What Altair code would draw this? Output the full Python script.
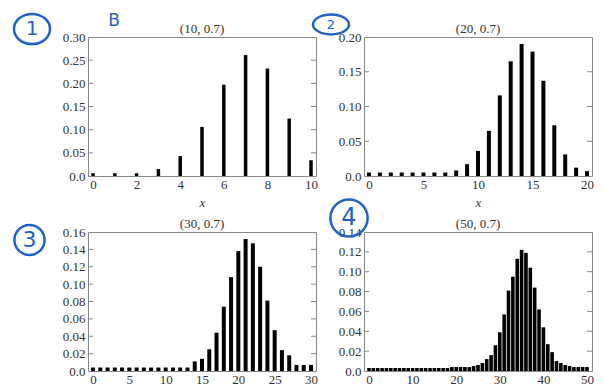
import altair as alt
import pandas as pd

# ---- data ----
p10 = [0.006, 0.006, 0.006, 0.015, 0.043, 0.106, 0.197, 0.261, 0.232, 0.124, 0.034]
p20 = [0.005, 0.005, 0.005, 0.005, 0.005, 0.005, 0.005, 0.005, 0.008, 0.017, 0.036,
       0.065, 0.116, 0.165, 0.190, 0.179, 0.137, 0.073, 0.031, 0.012, 0.007]
p30 = [0.004, 0.004, 0.004, 0.004, 0.004, 0.004, 0.004, 0.004, 0.004, 0.004, 0.004,
       0.004, 0.004, 0.004, 0.011, 0.014, 0.025, 0.044, 0.074, 0.108, 0.138,
       0.152, 0.147, 0.120, 0.081, 0.047, 0.024, 0.018, 0.007, 0.007, 0.007]
p50 = [0.003, 0.003, 0.003, 0.003, 0.003, 0.003, 0.003, 0.003, 0.003, 0.003,
       0.003, 0.003, 0.003, 0.003, 0.003, 0.003, 0.003, 0.003, 0.003, 0.004,
       0.004, 0.004, 0.004, 0.004, 0.005, 0.006, 0.008, 0.012, 0.016, 0.026,
       0.039, 0.057, 0.081, 0.095, 0.113, 0.122, 0.119, 0.104, 0.084, 0.062,
       0.044, 0.027, 0.019, 0.010, 0.008, 0.006, 0.005, 0.004, 0.004, 0.004, 0.004]

titles = ["(10, 0.7)", "(20, 0.7)", "(30, 0.7)", "(50, 0.7)"]
xticks10 = [0, 2, 4, 6, 8, 10]
xticks20 = [0, 5, 10, 15, 20]
xticks30 = [0, 5, 10, 15, 20, 25, 30]
xticks50 = [0, 10, 20, 30, 40, 50]
yticks10 = [0.0, 0.05, 0.10, 0.15, 0.20, 0.25, 0.30]
yticks20 = [0.0, 0.05, 0.10, 0.15, 0.20]
yticks30 = [0.0, 0.02, 0.04, 0.06, 0.08, 0.10, 0.12, 0.14, 0.16]
yticks50 = [0.0, 0.02, 0.04, 0.06, 0.08, 0.10, 0.12, 0.14]

W, H = 228, 139
FONT = "Liberation Serif"
TXT = "#333333"
FRAME = "#888888"
BLUE = "#1f63c6"
ELLIPSE = "M-1,0 A1,0.55 0 1,1 1,0 A1,0.55 0 1,1 -1,0 Z"


def annot(label, cx, cy, size, fsize, shape="circle"):
    d = pd.DataFrame({"a": [0]})
    ring = alt.Chart(d).mark_point(shape=shape, size=size, filled=False,
                                   stroke=BLUE, strokeWidth=2.5, opacity=1).encode(
        x=alt.value(cx), y=alt.value(cy))
    txt = alt.Chart(d).mark_text(text=label, color=BLUE, fontSize=fsize,
                                 font="DejaVu Sans", baseline="middle", align="center").encode(
        x=alt.value(cx), y=alt.value(cy))
    return [ring, txt]


def panel(vals, ymax, yticks, xticks, title, barsize, extras):
    n = len(vals) - 1
    df = pd.DataFrame({"k": list(range(n + 1)), "p": vals})
    yscale = alt.Scale(domain=[0, ymax], nice=False)
    yaxis = alt.Axis(values=yticks, title=None, ticks=False, tickSize=0,
                     domain=False, grid=False, labelPadding=3,
                     labelExpr="datum.value == 0 ? '0.0' : format(datum.value, '.2f')")
    bars = alt.Chart(df).mark_bar(color="black", size=barsize, clip=True).encode(
        x=alt.X("k:Q", scale=alt.Scale(domain=[0, n], nice=False, zero=False),
                axis=alt.Axis(values=xticks, title="x", format="d", ticks=False,
                              domain=False, grid=False, labelPadding=2,
                              titleFontStyle="italic", titlePadding=5, tickSize=0)),
        y=alt.Y("p:Q", scale=yscale, axis=yaxis),
    )
    tdf = pd.DataFrame({"p": yticks[1:-1]})
    left = alt.Chart(tdf).mark_rule(color=FRAME, strokeWidth=1).encode(
        y=alt.Y("p:Q", scale=yscale, axis=yaxis), x=alt.value(0), x2=alt.value(5))
    right = alt.Chart(tdf).mark_rule(color=FRAME, strokeWidth=1).encode(
        y=alt.Y("p:Q", scale=yscale, axis=yaxis), x=alt.value(W - 5), x2=alt.value(W))
    ttl = alt.Chart(pd.DataFrame({"t": [title]})).mark_text(
        font=FONT, fontSize=13, color=TXT, baseline="middle", align="center").encode(
        text="t:N", x=alt.value(W / 2), y=alt.value(-8))
    return alt.layer(bars, left, right, ttl, *extras).properties(width=W, height=H)


a1 = annot("1", -56, -8, (2 * 18) ** 2, 20, shape="M-1,0 A1,0.84 0 1,1 1,0 A1,0.84 0 1,1 -1,0 Z")
b = alt.Chart(pd.DataFrame({"a": [0]})).mark_text(
    text="B", color=BLUE, fontSize=17, font="DejaVu Sans", baseline="middle").encode(
    x=alt.value(26), y=alt.value(-16))
a2 = annot("2", -33, -12.5, (2 * 18) ** 2, 13, shape=ELLIPSE)
a3 = annot("3", -58.5, 8, 3.1416 * 17 ** 2, 22)
a4 = annot("4", -15, -14, 3.1416 * 21 ** 2, 24)

c1 = panel(p10, 0.30, yticks10, xticks10, titles[0], 3.5, a1 + [b])
c2 = panel(p20, 0.20, yticks20, xticks20, titles[1], 4, a2)
c3 = panel(p30, 0.16, yticks30, xticks30, titles[2], 4, a3)
c4 = panel(p50, 0.14, yticks50, xticks50, titles[3], 3.6, a4)

chart = alt.concat(
    c1, c2, c3, c4, columns=2,
    spacing=alt.RowColnumber(row=56, column=48), bounds="flush",
).configure(padding=0, background="white").configure_view(
    stroke=FRAME, strokeWidth=1
).configure_axis(
    labelFont=FONT, labelFontSize=13, labelColor=TXT,
    titleFont=FONT, titleFontSize=13, titleColor=TXT, titleFontWeight="normal",
)

chart.save("out.html", embed_options={"renderer": "svg", "actions": False})
